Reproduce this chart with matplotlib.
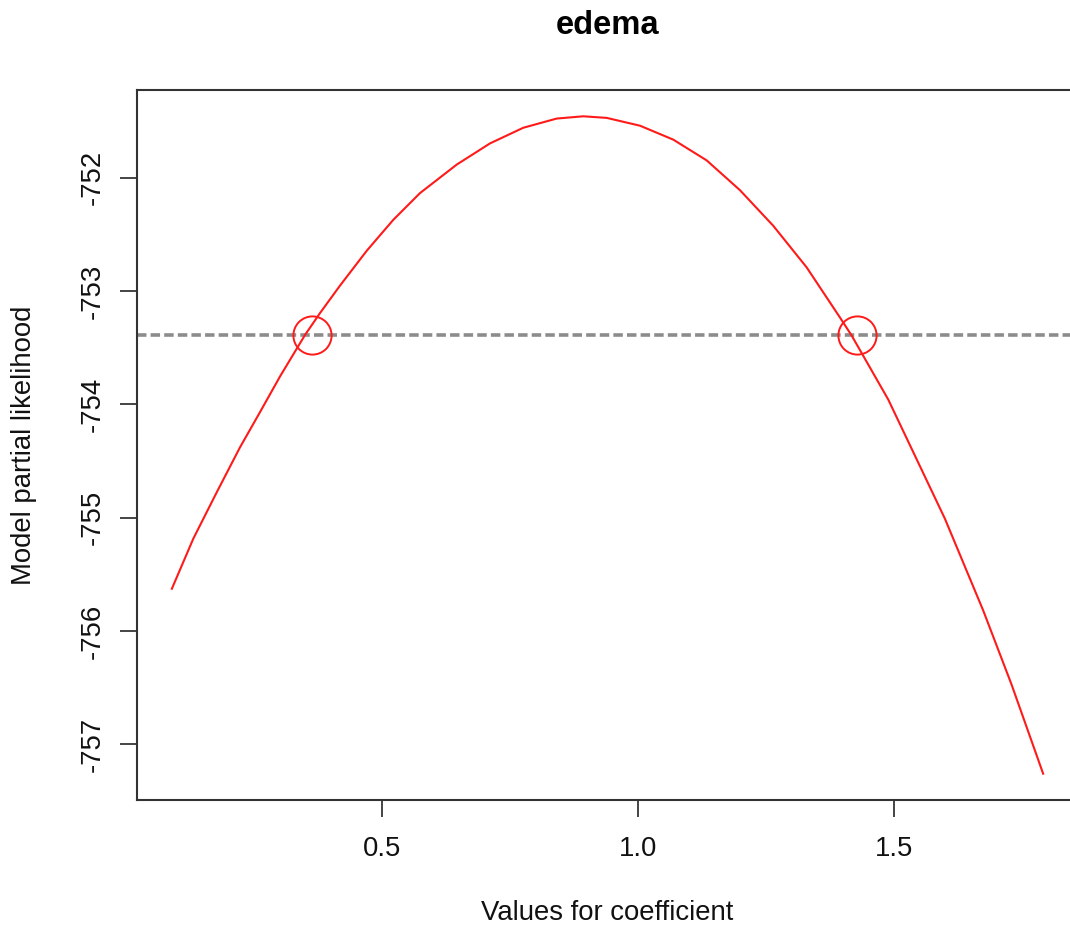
import matplotlib
matplotlib.use("Agg")
import matplotlib.pyplot as plt

plt.rcParams['font.family'] = ['Liberation Sans', 'DejaVu Sans']
plt.rcParams['lines.scale_dashes'] = False

# Profile likelihood curve
coef_values = [0.0901, 0.1322, 0.1785, 0.2234, 0.2624, 0.3015, 0.3503, 0.3796,
               0.4186, 0.4707, 0.5226, 0.5748, 0.6464, 0.7114, 0.7764, 0.8416,
               0.8935, 0.9392, 1.0042, 1.0692, 1.1344, 1.1994, 1.2644, 1.3296,
               1.3946, 1.4174, 1.4889, 1.5996, 1.6743, 1.7297, 1.7914]
loglik = [-755.626, -755.182, -754.768, -754.376, -754.066, -753.751, -753.385, -753.192,
          -752.950, -752.643, -752.370, -752.134, -751.883, -751.696, -751.558, -751.477,
          -751.457, -751.471, -751.540, -751.663, -751.846, -752.109, -752.423, -752.790,
          -753.232, -753.391, -753.956, -755.008, -755.817, -756.471, -757.258]

ci_limit = -753.39
ci_bounds = [0.3645, 1.4284]

x_ticks = [0.5, 1.0, 1.5]
x_tick_labels = ["0.5", "1.0", "1.5"]
y_ticks = [-757, -756, -755, -754, -753, -752]
y_tick_labels = ["-757", "-756", "-755", "-754", "-753", "-752"]

title = "edema"
xlabel = "Values for coefficient"
ylabel = "Model partial likelihood"

fig = plt.figure(figsize=(10.7, 9.32), dpi=100)
ax = fig.add_axes([137/1070, (932-800)/932, (1078-137)/1070, 710/932])

ax.plot(coef_values, loglik, color='#ff1a1a', lw=1.5, zorder=3)
ax.axhline(ci_limit, color='#8c8c8c', lw=2.6, dashes=(6.8, 3.0), zorder=2)
ax.plot(ci_bounds, [ci_limit]*len(ci_bounds), linestyle='none', marker='o',
        markersize=27.5, markerfacecolor='none', markeredgecolor='#ff1a1a', mew=1.4, zorder=4)

# R-style 4% axis extension
xr = max(coef_values) - min(coef_values)
yr = max(loglik) - min(loglik)
ax.set_xlim(min(coef_values) - 0.04*xr, max(coef_values) + 0.04*xr)
ax.set_ylim(min(loglik) - 0.04*yr, max(loglik) + 0.04*yr)

ax.set_xticks(x_ticks)
ax.set_xticklabels(x_tick_labels)
ax.set_yticks(y_ticks)
ax.set_yticklabels(y_tick_labels, rotation=90, va='center')

for s in ax.spines.values():
    s.set_color('#333333')
    s.set_linewidth(1.5)

ax.tick_params(axis='both', direction='out', length=12.2, width=1.4, color='#444444',
               labelsize=19.8, labelcolor='#111111')
ax.tick_params(axis='x', pad=14)
ax.tick_params(axis='y', pad=10)

ax.set_title(title, fontsize=23.6, fontweight='bold', y=1.0785, va='baseline', pad=0)
ax.set_xlabel(xlabel, fontsize=19.8, va='center', color='#111111')
ax.xaxis.set_label_coords(0.5, (800-913)/710)
ax.set_ylabel(ylabel, fontsize=19.8, va='center', color='#111111')
ax.yaxis.set_label_coords((24-137)/941, 0.5)

fig.savefig('out.png', dpi=100)
